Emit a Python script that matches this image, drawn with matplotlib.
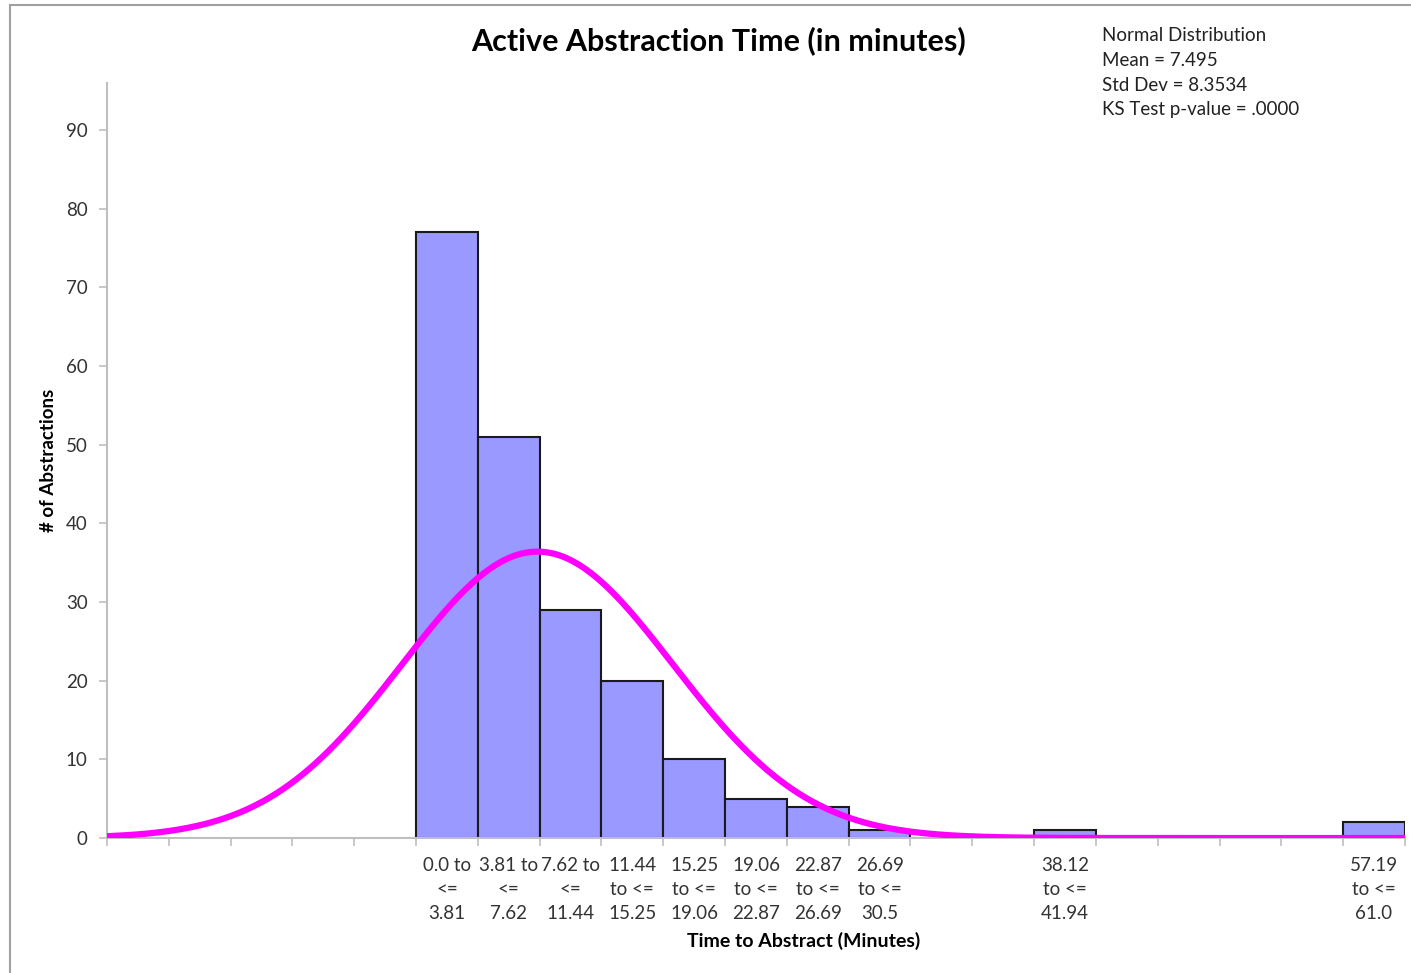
import numpy as np
import matplotlib
matplotlib.use("Agg")
import matplotlib.pyplot as plt
from matplotlib.patches import Rectangle

plt.rcParams['font.family'] = ['Lato', 'DejaVu Sans']

# bins of the histogram (lower edges) and their counts
bin_width = 3.8125
bin_left = [0.0, 3.8125, 7.625, 11.4375, 15.25, 19.0625, 22.875, 26.6875,
            30.5, 34.3125, 38.125, 41.9375, 45.75, 49.5625, 53.375, 57.1875]
counts = [77, 51, 29, 20, 10, 5, 4, 1, 0, 0, 1, 0, 0, 0, 0, 2]
labels = ["0.0 to\n<=\n3.81", "3.81 to\n<=\n7.62", "7.62 to\n<=\n11.44",
          "11.44\nto <=\n15.25", "15.25\nto <=\n19.06", "19.06\nto <=\n22.87",
          "22.87\nto <=\n26.69", "26.69\nto <=\n30.5", "", "",
          "38.12\nto <=\n41.94", "", "", "", "", "57.19\nto <=\n61.0"]

# fitted normal
mean = 7.495
std = 8.3534
n_total = sum(counts)

fig = plt.figure(figsize=(14.11, 9.73), dpi=100)
ax = fig.add_axes([0.0758, 0.1387, 0.9199, 0.776])

ax.bar(bin_left, counts, width=bin_width, align='edge', color='#9999ff',
       edgecolor='#1a1a1a', linewidth=1.5, zorder=2)

xmin = -5 * bin_width
xmax = 16 * bin_width
xs = np.linspace(xmin, xmax, 400)
ys = n_total * bin_width * np.exp(-0.5 * ((xs - mean) / std) ** 2) / (std * np.sqrt(2 * np.pi))
ax.plot(xs, ys, color='#ff00ff', lw=4.5, zorder=3, solid_capstyle='round')

ax.set_xlim(xmin, xmax)
ax.set_ylim(0, 96)
ax.set_yticks(range(0, 91, 10))

edges = [xmin + i * bin_width for i in range(22)]
ax.set_xticks(edges)
ax.set_xticklabels([])
centers = [b + bin_width / 2 for b in bin_left]
ax.set_xticks(centers, minor=True)
ax.set_xticklabels(labels, minor=True, fontsize=13.5, color='#333333', linespacing=1.5)
ax.tick_params(axis='x', which='minor', length=0, pad=14)
ax.tick_params(axis='x', which='major', length=6, color='#bfbfbf', width=1.2)
ax.tick_params(axis='y', length=6, color='#bfbfbf', width=1.2, labelsize=13.5,
               labelcolor='#333333', pad=8)

for s in ['top', 'right']:
    ax.spines[s].set_visible(False)
for s in ['left', 'bottom']:
    ax.spines[s].set_color('#bfbfbf')
    ax.spines[s].set_linewidth(1.5)

ax.set_ylabel('# of Abstractions', fontsize=13.5, fontweight='bold', labelpad=6)
ax.set_xlabel('Time to Abstract (Minutes)', fontsize=14, fontweight='bold')
ax.xaxis.set_label_coords(0.537, -0.124)

fig.text(0.509, 0.958, 'Active Abstraction Time (in minutes)', ha='center', va='center',
         fontsize=22, fontweight='bold')
fig.text(0.781, 0.972, 'Normal Distribution\nMean = 7.495\nStd Dev = 8.3534\nKS Test p-value = .0000',
         ha='left', va='top', fontsize=13.5, color='#222222', linespacing=1.55)

fig.patches.append(Rectangle((0.007, -0.1), 1.1, 1.095, transform=fig.transFigure,
                             fill=False, edgecolor='#a0a0a0', lw=1.5))

fig.savefig('out.png', dpi=100)
